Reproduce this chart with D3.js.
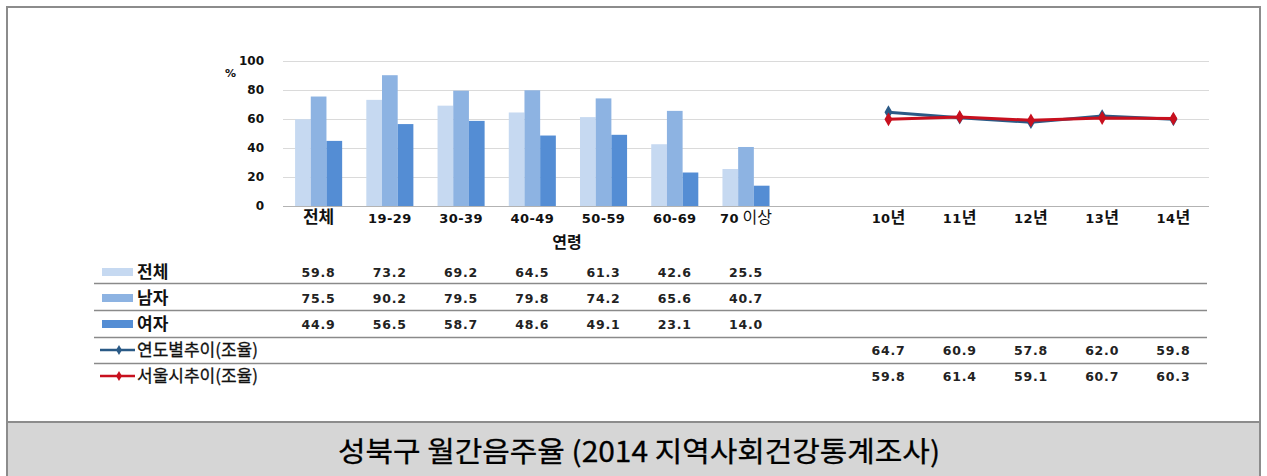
<!DOCTYPE html>
<html>
<head>
<meta charset="utf-8">
<script src="https://cdn.jsdelivr.net/npm/d3@7/dist/d3.min.js"></script>
<style>
html,body{margin:0;padding:0;background:#fff;}
svg{display:block;}
</style>
</head>
<body>
<svg id="chart" width="1267" height="476"></svg>
<script>
// ---- data ----
const ageCats = ['전체','19-29','30-39','40-49','50-59','60-69','70 이상'];
const yearCats = ['10년','11년','12년','13년','14년'];
const barSeries = ['전체','남자','여자'];
const totalVals = [59.8,73.2,69.2,64.5,61.3,42.6,25.5];
const maleVals  = [75.5,90.2,79.5,79.8,74.2,65.6,40.7];
const femaleVals= [44.9,56.5,58.7,48.6,49.1,23.1,14.0];
const lineSeries = ['연도별추이(조율)','서울시추이(조율)'];
const districtTrend = [64.7,60.9,57.8,62.0,59.8];
const seoulTrend    = [59.8,61.4,59.1,60.7,60.3];
const yTicks = [0,20,40,60,80,100];
const titleText = '성북구 월간음주율 (2014 지역사회건강통계조사)';
const axisTitle = '연령';

// ---- styles ----
const barColors = ['#c6d9f1','#8db3e2','#548dd4'];
const lineColors = ['#2a5a86','#c8101e'];
const KR = '"Noto Sans CJK KR", "Noto Sans", sans-serif';
const NUM = '"DejaVu Sans", sans-serif';

const svg = d3.select('#chart');

// outer frame
svg.append('rect').attr('x',7).attr('y',7).attr('width',1253).attr('height',480)
  .attr('fill','#fff').attr('stroke','#8c8c8c').attr('stroke-width',2);

// title band
svg.append('rect').attr('x',7).attr('y',422).attr('width',1253).attr('height',60)
  .attr('fill','#d6d6d6').attr('stroke','#8c8c8c').attr('stroke-width',2);
svg.append('text').attr('x',639).attr('y',462).attr('text-anchor','middle')
  .attr('font-family',KR).attr('font-size',28).attr('fill','#000')
  .attr('stroke','#000').attr('stroke-width',0.3)
  .attr('textLength',602).attr('lengthAdjust','spacingAndGlyphs')
  .text(titleText);

// scales
const domain = [...ageCats, ' ', ...yearCats];
const x = d3.scaleBand().domain(domain).range([283,1209]).padding(0);
const y = d3.scaleLinear().domain([0,100]).range([206,61]);
const xs = d3.scaleBand().domain(barSeries).range([0,x.bandwidth()]).paddingInner(0).paddingOuter(0.77);

// gridlines
svg.append('g').selectAll('line').data(yTicks.filter(d=>d>0)).join('line')
  .attr('x1',283).attr('x2',1209)
  .attr('y1',d=>Math.round(y(d))+0.5).attr('y2',d=>Math.round(y(d))+0.5)
  .attr('stroke','#dadada').attr('stroke-width',1);

// y axis labels
const yAxis = svg.append('g').attr('transform','translate(268,0)')
  .call(d3.axisLeft(y).tickValues(yTicks).tickSize(0).tickPadding(4));
yAxis.select('.domain').remove();
yAxis.selectAll('text').attr('font-family',NUM).attr('font-weight','bold')
  .attr('font-size',12).attr('fill','#111');
svg.append('text').attr('x',225).attr('y',77).attr('font-family',NUM)
  .attr('font-size',11).attr('font-weight','bold').attr('fill','#111').text('%');

// bars
const barData = [];
ageCats.forEach((c,i)=>{
  [totalVals,maleVals,femaleVals].forEach((arr,j)=>{
    barData.push({cat:c, s:barSeries[j], v:arr[i], j});
  });
});
svg.append('g').selectAll('rect').data(barData).join('rect')
  .attr('x',d=>x(d.cat)+xs(d.s))
  .attr('width',xs.bandwidth())
  .attr('y',d=>y(d.v))
  .attr('height',d=>y(0)-y(d.v))
  .attr('fill',d=>barColors[d.j]);

// baseline
svg.append('line').attr('x1',283).attr('x2',1209).attr('y1',206.5).attr('y2',206.5)
  .attr('stroke','#b3b3b3').attr('stroke-width',1.2);

// x axis labels
const xlab = svg.append('g');
domain.forEach(c=>{
  if(c.trim()==='') return;
  const cx = x(c)+x.bandwidth()/2;
  const t = xlab.append('text').attr('x',cx).attr('y',223).attr('text-anchor','middle')
    .attr('fill','#111').attr('font-weight','bold');
  const m = c.match(/^([0-9\-]+)(.*)$/);
  if(m){
    t.append('tspan').attr('font-family',NUM).attr('font-size',13).attr('letter-spacing',0.4).text(m[1]);
    if(m[2]) t.append('tspan').attr('font-family',KR).attr('font-size',16)
      .attr('font-weight', m[2].trim()==='이상' ? 'normal':'bold').text(m[2]);
  } else {
    t.attr('font-family',KR).attr('font-size',17).text(c);
  }
});
svg.append('text').attr('x',567).attr('y',248).attr('text-anchor','middle')
  .attr('font-family',KR).attr('font-size',16).attr('font-weight','bold').attr('fill','#111')
  .text(axisTitle);

// lines
const lineGen = d3.line().x((d,i)=>x(yearCats[i])+x.bandwidth()/2).y(d=>y(d));
const diamond = d3.symbol().type(d3.symbolDiamond).size(55);
[districtTrend, seoulTrend].forEach((arr,k)=>{
  svg.append('path').datum(arr).attr('d',lineGen).attr('fill','none')
    .attr('stroke',lineColors[k]).attr('stroke-width',3);
  svg.append('g').selectAll('path').data(arr).join('path')
    .attr('d',diamond)
    .attr('transform',(d,i)=>`translate(${x(yearCats[i])+x.bandwidth()/2},${y(d)})`)
    .attr('fill',lineColors[k]);
});

// data table
const rowsY = [272,298,324,350,376];
const sepY = [283.5,310.5,337.5,363.5];
svg.append('g').selectAll('line').data(sepY).join('line')
  .attr('x1',94).attr('x2',1207).attr('y1',d=>d).attr('y2',d=>d)
  .attr('stroke','#8a8a8a').attr('stroke-width',1.5);

const table = svg.append('g');
// bar legend rows
barSeries.forEach((s,j)=>{
  table.append('rect').attr('x',102).attr('y',rowsY[j]-4).attr('width',31).attr('height',8)
    .attr('fill',barColors[j]);
  table.append('text').attr('x',137).attr('y',rowsY[j]+6).attr('font-family',KR)
    .attr('font-size',17).attr('font-weight','bold').attr('fill','#111').text(s);
  const vals = [totalVals,maleVals,femaleVals][j];
  vals.forEach((v,i)=>{
    table.append('text').attr('x',x(ageCats[i])+x.bandwidth()/2).attr('y',rowsY[j]+5)
      .attr('text-anchor','middle').attr('font-family',NUM).attr('font-size',12.5)
      .attr('letter-spacing',0.8)
      .attr('font-weight','bold').attr('fill','#222').text(v.toFixed(1));
  });
});
// line legend rows
lineSeries.forEach((s,k)=>{
  const ry = rowsY[3+k];
  table.append('line').attr('x1',100).attr('x2',135).attr('y1',ry).attr('y2',ry)
    .attr('stroke',lineColors[k]).attr('stroke-width',2.5);
  table.append('path').attr('d',d3.symbol().type(d3.symbolDiamond).size(30))
    .attr('transform',`translate(119,${ry})`).attr('fill',lineColors[k]);
  table.append('text').attr('x',137).attr('y',ry+6).attr('font-family',KR)
    .attr('font-size',17).attr('fill','#111').attr('stroke','#111').attr('stroke-width',0.3).text(s);
  const vals = [districtTrend,seoulTrend][k];
  vals.forEach((v,i)=>{
    table.append('text').attr('x',x(yearCats[i])+x.bandwidth()/2).attr('y',ry+5)
      .attr('text-anchor','middle').attr('font-family',NUM).attr('font-size',12.5)
      .attr('letter-spacing',0.8)
      .attr('font-weight','bold').attr('fill','#222').text(v.toFixed(1));
  });
});
</script>
</body>
</html>
